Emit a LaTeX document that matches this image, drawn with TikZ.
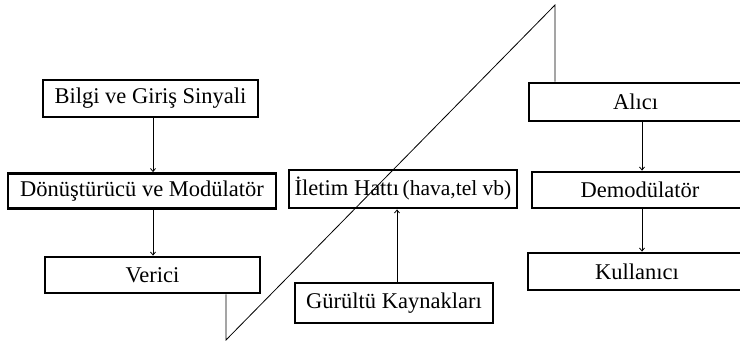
\documentclass[tikz,border=0pt]{standalone}
\usepackage{fontspec}
\setmainfont{Liberation Serif}
\usetikzlibrary{arrows.meta}
\begin{document}
\begin{tikzpicture}[x=1pt,y=-1pt,
  blk/.style={draw,line width=2.8pt,inner sep=0pt,font=\fontsize{22.5}{24}\selectfont,anchor=center},
  con/.style={line width=0.8pt},
  arr/.style={con,-{Straight Barb[length=3pt,width=5pt]}}]
\useasboundingbox (0,0) rectangle (740,342);
\clip (0,0) rectangle (740,342);
\node[blk,minimum width=215pt,minimum height=37pt] (bilgi) at (150.5,98.5) {Bilgi ve Giriş Sinyali};
\node[blk,minimum width=268pt,minimum height=35pt] (donus) at (142,191) {Dönüştürücü ve Modülatör};
\node[blk,minimum width=215pt,minimum height=36pt] (verici) at (152.5,275) {Verici};
\node[blk,minimum width=228pt,minimum height=38pt] (iletim) at (403,189) {İletim Hattı\,{\fontsize{21.5}{22}\selectfont(hava,tel vb)}};
\node[blk,minimum width=198pt,minimum height=40pt] (gurultu) at (394,303) {Gürültü Kaynakları};
\node[blk,minimum width=213pt,minimum height=38pt] (alici) at (635.5,102) {Alıcı};
\node[blk,minimum width=216pt,minimum height=36pt] (demod) at (640,190) {Demodülatör};
\node[blk,minimum width=218pt,minimum height=37pt] (kullanici) at (637,271.5) {Kullanıcı};
\coordinate (a1) at (153,0);
\coordinate (a2) at (397,0);
\coordinate (a3) at (642,0);
\coordinate (p1) at (226,340);
\coordinate (p2) at (555,5);
\draw[arr] (bilgi.south -| a1) -- (donus.north -| a1);
\draw[arr] (donus.south -| a1) -- (verici.north -| a1);
\draw[arr] (gurultu.north -| a2) -- (iletim.south -| a2);
\draw[arr] (alici.south -| a3) -- (demod.north -| a3);
\draw[arr] (demod.south -| a3) -- (kullanici.north -| a3);
\draw[con] (verici.south -| p1) -- (p1) -- (p2) -- (alici.north -| p2);
\end{tikzpicture}
\end{document}
